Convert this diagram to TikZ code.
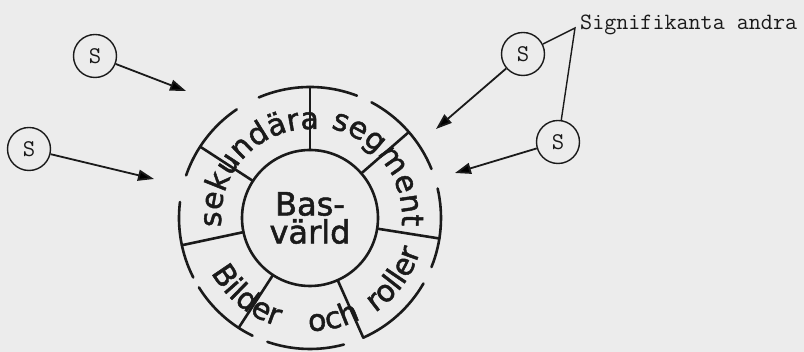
\documentclass[tikz,border=0pt]{standalone}
\usepackage{fontspec}
\newfontfamily\handfont[FakeBold=1.6]{DejaVu Sans}
\usepackage{tikz}
\usetikzlibrary{arrows.meta, calc, decorations.text}
\definecolor{ink}{HTML}{1A1A1A}
\definecolor{paper}{HTML}{ECECEC}
\newcommand{\ringfont}{\handfont\fontsize{30}{30}\selectfont}

\begin{document}
\begin{tikzpicture}[
    x=1pt, y=1pt,
    ring/.style={line width=2.6pt, draw=ink, line cap=round},
    snode/.style={circle, draw=ink, line width=1.4pt, minimum size=43pt, inner sep=0pt,
        font=\ttfamily\fontsize{24}{24}\selectfont, text=ink},
    pointer/.style={line width=1.8pt, draw=ink, -{Triangle[length=16pt, width=11pt]}},
    ringtext/.style={decorate, decoration={text along path, text align=center,
        text color=ink, text={|\ringfont|#1}}},
]
    \useasboundingbox (0,0) rectangle (804,352);
    \fill[paper] (0,0) rectangle (804,352);

    % Base world
    \coordinate (c) at (310,134);
    \node[circle, draw=ink, line width=2.6pt, minimum size=136pt, align=center, text=ink,
        font=\handfont\fontsize{32}{28}\selectfont] (bas) at (c) {Bas-\\värld};

    % Ring: dividers and broken outer edge
    \foreach \a in {90,147,41,192,-9,237,-66}
        \draw[ring] ($(c)+(\a:68)$) -- ($(c)+(\a:131)$);
    \foreach \s/\e in {124/161, 173/207, 212/244, 251/285, 294/330, 338/373, 22/62, 69/113}
        \draw[ring] ($(c)+(\s:131)$) arc[start angle=\s, end angle=\e, radius=131];

    % Ring labels
    \path[ringtext=sekundära] ($(c)+(205:89)$) arc[start angle=205, end angle=65, radius=89];
    \path[ringtext=segment] ($(c)+(96:92)$) arc[start angle=96, end angle=-24, radius=92];
    \path[ringtext=Bilder] ($(c)+(181:113)$) arc[start angle=181, end angle=281, radius=113];
    \path[ringtext=och] ($(c)+(253:113)$) arc[start angle=253, end angle=313, radius=113];
    \path[ringtext=roller] ($(c)+(289:115)$) arc[start angle=289, end angle=359, radius=115];

    % S nodes
    \node[snode] (s1) at (95,296) {S};
    \node[snode] (s2) at (29,203) {S};
    \node[snode] (s3) at (523,298) {S};
    \node[snode] (s4) at (558,210) {S};

    % Arrows into the ring
    \coordinate (t1) at (186,261);
    \coordinate (t2) at (154,173);
    \coordinate (t3) at (436,223);
    \coordinate (t4) at (455,179);
    \draw[pointer] (s1) -- (t1);
    \draw[pointer] (s2) -- (t2);
    \draw[pointer] (s3) -- (t3);
    \draw[pointer] (s4) -- (t4);

    % Label for the two right S
    \coordinate (apex) at (575,324);
    \node[anchor=base west, inner sep=0pt, text=ink,
        font=\ttfamily\fontsize{23.4}{23.4}\selectfont] (lbl) at (580,322) {Signifikanta andra};
    \draw[line width=1.4pt, ink] (s3) -- (apex) -- (s4);
\end{tikzpicture}
\end{document}
